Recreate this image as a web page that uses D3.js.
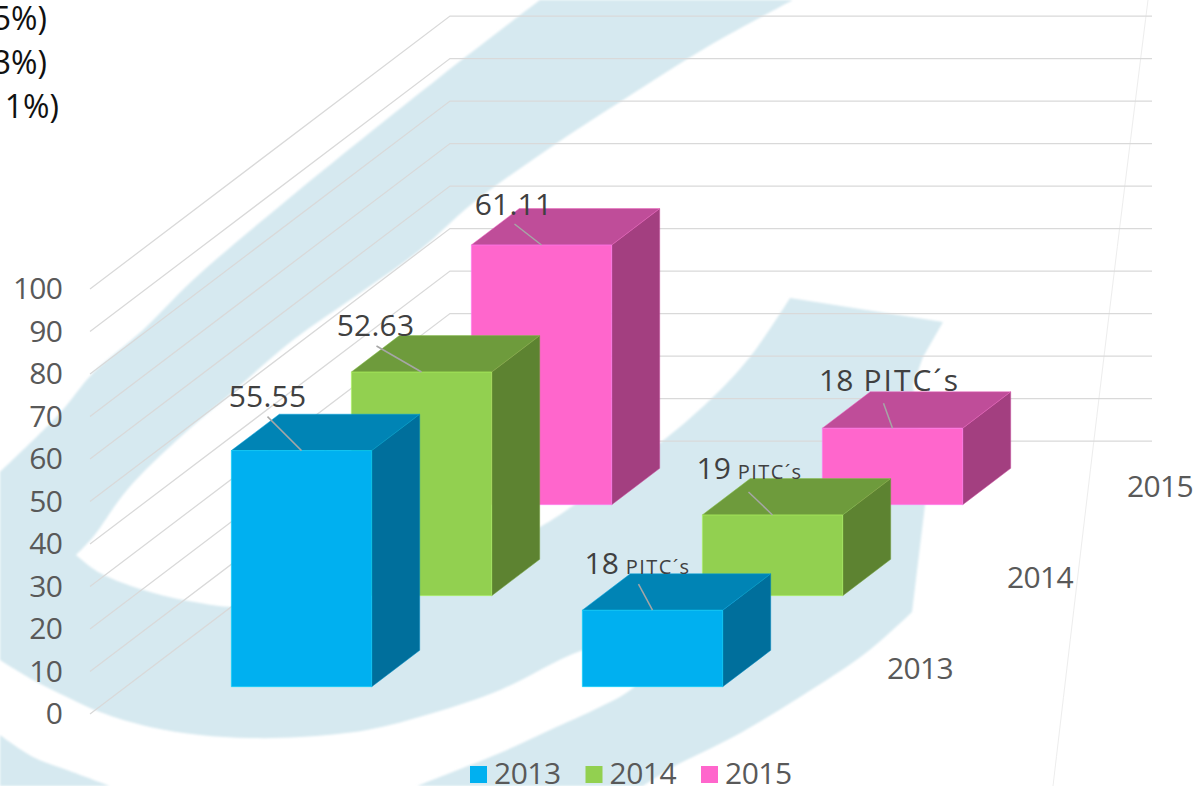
<!DOCTYPE html>
<html>
<head>
<meta charset="utf-8">
<script src="https://cdn.jsdelivr.net/npm/d3@7"></script>
<style>
  html, body { margin: 0; padding: 0; background: #fff; overflow: hidden; }
  text { font-family: "Open Sans", "Noto Sans", sans-serif; }
</style>
</head>
<body>
<svg id="chart" width="1197" height="786"></svg>
<script>
// chart values
var categories = ['Porcentaje', 'PITC'];
var seriesNames = ['2013', '2014', '2015'];
var values2013 = [55.55, 18];
var values2014 = [52.63, 19];
var values2015 = [61.11, 18];
var numberLabels2013 = ['55.55', '18'];
var numberLabels2014 = ['52.63', '19'];
var numberLabels2015 = ['61.11', '18'];
var unitLabels = ['', 'PITC´s'];
var valueTicks = [0, 10, 20, 30, 40, 50, 60, 70, 80, 90, 100];
var clippedNotes = ['5%)', '3%)', '1%)'];

var allValues = [values2013, values2014, values2015];
var allLabels = [numberLabels2013, numberLabels2014, numberLabels2015];

// 3d box colours per series: front, top, side
var seriesColors = ['#00b0f0', '#92d050', '#ff66cc'];
var topColors = ['#0084b5', '#6e9b3c', '#bf4d99'];
var sideColors = ['#006f9c', '#5d8331', '#a33f80'];

// scales
var x = d3.scaleBand().domain(categories).range([0, 702]).paddingInner(0.6).paddingOuter(0.3);
var y = d3.scaleLinear().domain([0, 100]).range([714, 289]);
var depth = d3.scaleBand().domain(seriesNames).range([0, 1]).paddingInner(0.6).paddingOuter(0.3);
var depthX = d3.scaleLinear().domain([0, 1]).range([90, 450]);
var depthY = d3.scaleLinear().domain([0, 1]).range([0, -273]);

// screen point for a position across the floor (px), depth 0..1 and value
function project(across, d, v) {
    return [depthX(d) + across, y(v) + depthY(d)];
}

var svg = d3.select('#chart');
var line = d3.line();

// watermark in the background of the slide
var smooth = d3.line().curve(d3.curveCatmullRom.alpha(0.5));
var swooshEdges = [
    [[540, 0], [440, 77], [287, 200], [193, 280], [143, 330], [93, 373], [60, 413], [0, 472]],
    [[0, 660], [33, 680], [67, 697], [100, 712], [150, 727], [200, 735], [250, 738], [300, 737], [367, 730], [433, 713], [500, 690], [583, 650], [690, 625]],
    [[690, 625], [633, 688], [600, 707], [550, 730], [500, 753], [450, 773], [417, 786]],
    [[643, 786], [673, 767], [733, 737], [800, 697], [867, 652], [912, 612]],
    [[912, 612], [925, 505], [918, 430], [913, 385], [923, 357], [943, 322]],
    [[790, 298], [750, 357], [710, 400], [660, 443], [577, 503], [540, 527], [450, 570], [350, 600], [232, 607], [200, 603], [150, 592], [100, 573], [76, 555]],
    [[76, 555], [93, 537], [127, 490], [177, 440], [227, 397], [293, 340], [360, 293], [420, 250], [473, 203], [557, 143], [623, 100], [707, 47], [793, 0]]
];
var swooshPath = swooshEdges.map(function(edge, i) {
    var part = i === 4 ? line(edge) : smooth(edge);
    return i === 0 ? part : 'L' + part.slice(1);
}).join('') + 'Z';

var defs = svg.append('defs');
defs.append('filter').attr('id', 'soft')
    .append('feGaussianBlur').attr('stdDeviation', 0.8);

var watermark = svg.append('g').attr('fill', '#d6e9f0').attr('filter', 'url(#soft)');
watermark.append('path').attr('d', swooshPath);
watermark.append('path')
    .attr('d', smooth([[0, 735], [33, 757], [67, 770], [110, 786]]) + 'L0,786Z');

// thin edge line on the right
svg.append('path')
    .attr('d', d3.line().curve(d3.curveNatural)([[1148, 0], [1106, 340], [1053, 786]]))
    .attr('fill', 'none')
    .attr('stroke', '#ededed')
    .attr('stroke-width', 1);

// gridlines: side wall and back wall
var grid = svg.append('g').attr('fill', 'none').attr('stroke', '#d9d9d9').attr('stroke-width', 1.25);
grid.selectAll('path').data(valueTicks).enter().append('path')
    .attr('d', function(v) {
        return line([project(0, 0, v), project(0, 1, v), project(702, 1, v)]);
    });

// value axis
var yAxis = d3.axisLeft(y).tickValues(valueTicks).tickSize(0).tickPadding(28);
var yAxisG = svg.append('g').attr('transform', 'translate(90,0)').call(yAxis);
yAxisG.select('.domain').remove();
yAxisG.selectAll('text')
    .attr('fill', '#595959')
    .attr('font-size', 30)
    .attr('letter-spacing', -0.8)
    .style('font-family', '"Open Sans", sans-serif');

// series axis labels, next to the floor's right edge
svg.append('g').selectAll('text').data(seriesNames).enter().append('text')
    .attr('x', function(s) { return project(702, depth(s) + depth.bandwidth() / 2, 0)[0] + 68; })
    .attr('y', function(s) { return project(702, depth(s) + depth.bandwidth() / 2, 0)[1]; })
    .attr('dy', '0.36em')
    .attr('text-anchor', 'middle')
    .attr('fill', '#595959')
    .attr('font-size', 30)
    .attr('letter-spacing', -0.6)
    .text(function(s) { return s; });

// boxes, back series first so the front ones cover them
var boxes = [];
seriesNames.forEach(function(s, si) {
    categories.forEach(function(c, ci) {
        boxes.push({ series: s, si: si, cat: c, ci: ci, value: allValues[si][ci] });
    });
});
boxes.sort(function(a, b) { return b.si - a.si; });

var boxG = svg.append('g').selectAll('g').data(boxes).enter().append('g');

function corners(b) {
    var x0 = x(b.cat), x1 = x0 + x.bandwidth();
    var d0 = depth(b.series), d1 = d0 + depth.bandwidth();
    return {
        front: [project(x0, d0, 0), project(x1, d0, 0), project(x1, d0, b.value), project(x0, d0, b.value)],
        top: [project(x0, d0, b.value), project(x1, d0, b.value), project(x1, d1, b.value), project(x0, d1, b.value)],
        side: [project(x1, d0, 0), project(x1, d1, 0), project(x1, d1, b.value), project(x1, d0, b.value)]
    };
}

// faint lighter edge round each face, as the slide renders them
function edgeOf(color) {
    return d3.color(color).brighter(0.6).formatHex();
}

boxG.append('path')
    .attr('d', function(b) { return line(corners(b).side) + 'Z'; })
    .attr('fill', function(b) { return sideColors[b.si]; })
    .attr('stroke', function(b) { return edgeOf(sideColors[b.si]); })
    .attr('stroke-opacity', 0.5);
boxG.append('path')
    .attr('d', function(b) { return line(corners(b).top) + 'Z'; })
    .attr('fill', function(b) { return topColors[b.si]; })
    .attr('stroke', function(b) { return edgeOf(topColors[b.si]); })
    .attr('stroke-opacity', 0.5);
boxG.append('path')
    .attr('d', function(b) { return line(corners(b).front) + 'Z'; })
    .attr('fill', function(b) { return seriesColors[b.si]; })
    .attr('stroke', function(b) { return edgeOf(seriesColors[b.si]); })
    .attr('stroke-opacity', 0.5);

// data labels, placed by hand around the box as in the slide
// leader start and text centre are offsets from the middle of the box's front top edge
var labelPlace = {
    '2013-0': { lead: [-34, -34], text: [-34, -54] },
    '2014-0': { lead: [-45, -26], text: [-46, -47] },
    '2015-0': { lead: [-27, -21], text: [-28, -41] },
    '2013-1': { lead: [-14, -26], text: [-15, -47], unit: 20, spacing: 1.4 },
    '2014-1': { lead: [-24, -23], text: [-23, -47], unit: 20, spacing: 1.4 },
    '2015-1': { lead: [-9, -25], text: [-3, -48], unit: 30, spacing: 2 }
};

var labelG = svg.append('g');
boxes.forEach(function(b) {
    var place = labelPlace[b.series + '-' + b.ci];
    var anchor = project(x(b.cat) + x.bandwidth() / 2, depth(b.series), b.value);
    labelG.append('line')
        .attr('x1', anchor[0] + place.lead[0])
        .attr('y1', anchor[1] + place.lead[1])
        .attr('x2', anchor[0])
        .attr('y2', anchor[1])
        .attr('stroke', '#a6a6a6')
        .attr('stroke-width', 1.5);
    var label = labelG.append('text')
        .attr('x', anchor[0] + place.text[0])
        .attr('y', anchor[1] + place.text[1])
        .attr('dy', '0.36em')
        .attr('text-anchor', 'middle')
        .attr('fill', '#404040')
        .attr('font-size', 30)
        .attr('letter-spacing', 0.2);
    label.append('tspan').text(allLabels[b.si][b.ci]);
    if (unitLabels[b.ci]) {
        label.append('tspan')
            .attr('font-size', place.unit)
            .attr('letter-spacing', place.spacing)
            .text(' ' + unitLabels[b.ci]);
    }
});

// legend
var legend = svg.append('g').selectAll('g').data(seriesNames).enter().append('g')
    .attr('transform', function(s, i) { return 'translate(' + (470 + i * 115.5) + ',766)'; });
legend.append('rect')
    .attr('width', 17)
    .attr('height', 17)
    .attr('fill', function(s, i) { return seriesColors[i]; });
legend.append('text')
    .attr('x', 24)
    .attr('y', 18)
    .attr('fill', '#595959')
    .attr('font-size', 30)
    .attr('letter-spacing', -0.5)
    .text(function(s) { return s; });

// text from the rest of the slide, cut off by the picture's edge
svg.append('g').selectAll('text').data(clippedNotes).enter().append('text')
    .attr('x', function(t, i) { return i === 2 ? 59 : 47; })
    .attr('y', function(t, i) { return 30 + i * 44; })
    .attr('text-anchor', 'end')
    .attr('fill', '#111')
    .attr('font-size', 32)
    .text(function(t) { return t; });
</script>
</body>
</html>
